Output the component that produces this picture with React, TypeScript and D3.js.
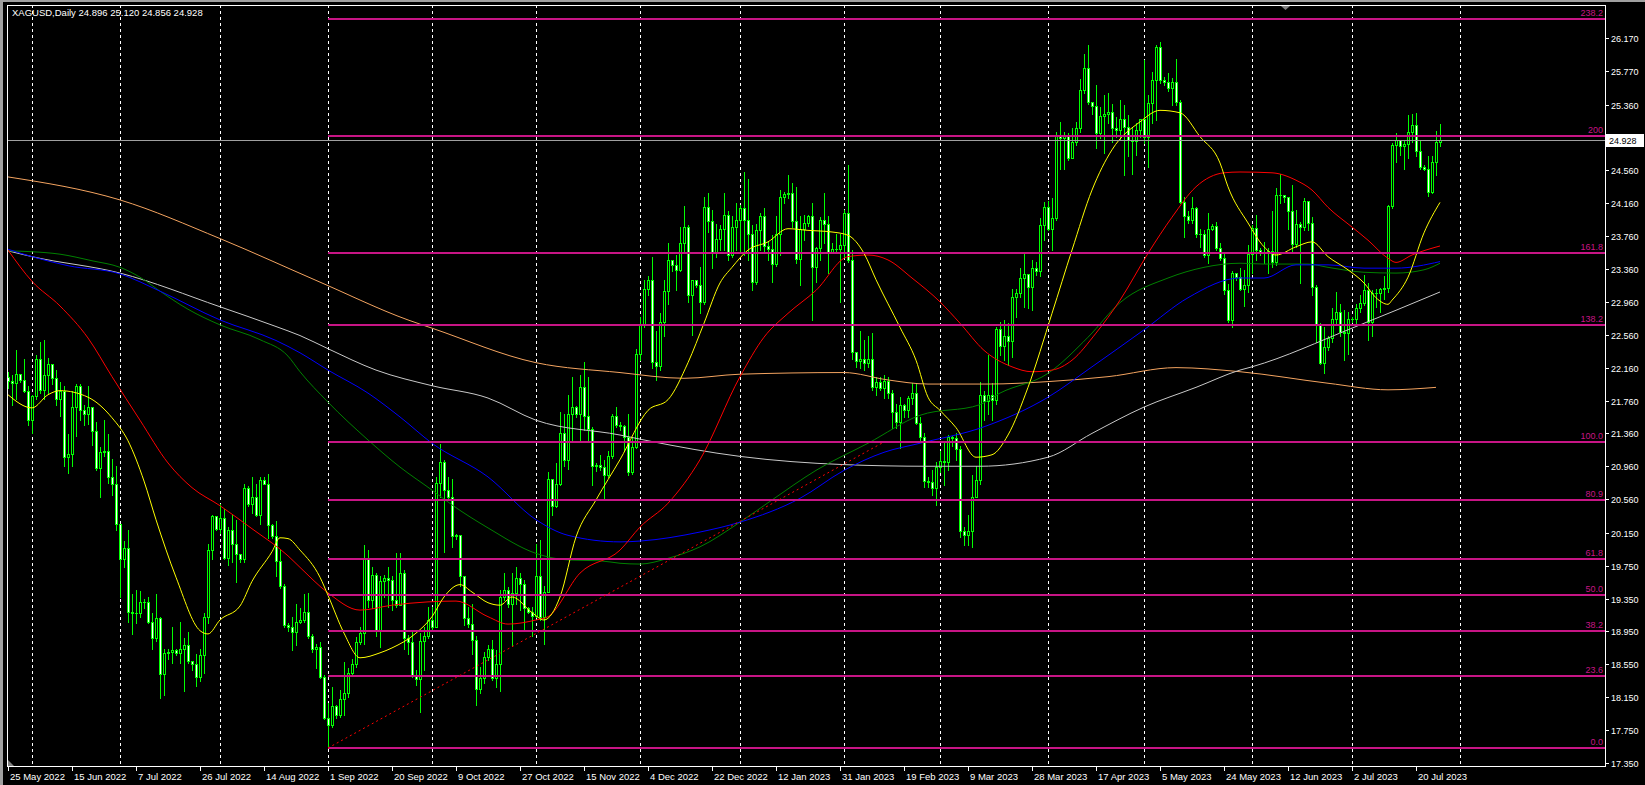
import React from "react";
import { scaleLinear, line, curveMonotoneX } from "d3";

// XAGUSD daily bars, 25 May 2022 .. 25 Jul 2023 (open = previous close)
const firstOpen = 22.05;
const closes = [
	22.0, 21.97, 22.08, 22.01, 21.88, 21.52, 21.81, 22.27, 21.89, 22.07,
	22.21, 22.03, 21.78, 21.87, 21.07, 21.11, 21.68, 21.94, 21.65, 21.6,
	21.68, 21.39, 20.94, 21.13, 21.15, 20.83, 20.75, 20.26, 19.83, 19.96,
	19.19, 19.18, 19.17, 19.31, 19.31, 19.07, 18.87, 19.11, 18.43, 18.69,
	18.7, 18.72, 18.69, 18.74, 18.79, 18.59, 18.55, 18.4, 18.66, 19.13,
	19.94, 20.35, 20.2, 20.33, 19.85, 20.18, 20.02, 19.89, 19.83, 20.7,
	20.5, 20.59, 20.37, 20.79, 20.75, 20.24, 20.11, 19.81, 19.5, 19.03,
	19.0, 18.94, 19.07, 19.09, 19.19, 18.9, 18.74, 18.76, 18.4, 17.9,
	17.81, 18.04, 17.93, 18.13, 18.2, 18.44, 18.56, 18.82, 18.93, 19.84,
	19.33, 19.64, 18.95, 19.56, 19.6, 19.58, 19.33, 19.27, 19.66, 18.87,
	18.82, 18.42, 18.37, 18.83, 18.89, 19.09, 19.0, 20.76, 21.01, 20.67,
	20.59, 20.11, 20.12, 19.62, 19.11, 19.04, 18.85, 18.25, 18.38, 18.64,
	18.74, 18.38, 18.56, 19.37, 19.45, 19.28, 19.42, 19.6, 19.53, 19.24,
	19.19, 19.14, 19.62, 19.13, 19.43, 20.8, 20.48, 20.75, 21.37, 21.04,
	21.59, 21.68, 21.6, 21.93, 21.57, 21.41, 20.96, 20.98, 20.95, 20.85,
	21.08, 21.57, 21.46, 21.45, 21.31, 20.89, 21.2, 22.33, 22.69, 23.12,
	23.23, 22.23, 22.18, 22.71, 23.09, 23.47, 23.41, 23.35, 23.68, 23.87,
	23.04, 23.22, 23.17, 22.96, 24.12, 23.94, 23.57, 23.72, 23.85, 24.02,
	23.53, 23.87, 23.95, 24.1, 23.96, 23.79, 23.2, 23.83, 24.0, 23.64,
	23.6, 23.42, 23.79, 24.24, 24.27, 24.28, 23.94, 23.48, 23.85, 23.92,
	24.0, 23.39, 23.62, 23.95, 23.91, 23.57, 23.6, 23.6, 23.65, 24.04,
	23.47, 22.35, 22.24, 22.27, 22.22, 22.27, 21.92, 21.99, 21.91, 22.0,
	21.85, 21.62, 21.5, 21.7, 21.64, 21.79, 21.85, 21.49, 21.32, 20.78,
	20.77, 20.69, 20.95, 21.03, 21.01, 21.32, 21.3, 21.17, 20.17, 20.12,
	20.17, 20.59, 20.79, 21.83, 21.75, 21.83, 21.77, 22.63, 22.42, 22.55,
	22.48, 23.02, 23.07, 23.25, 23.3, 23.14, 23.37, 23.34, 23.9, 24.12,
	23.85, 23.98, 24.99, 24.95, 24.99, 24.71, 24.9, 25.07, 25.54, 25.8,
	25.39, 25.34, 25.02, 25.22, 25.25, 25.27, 25.08, 25.05, 25.19, 25.09,
	24.93, 24.92, 25.05, 25.18, 24.97, 25.38, 25.66, 26.06, 25.66, 25.64,
	25.56, 25.64, 25.39, 24.18, 24.0, 23.96, 24.1, 23.79, 23.78, 23.53,
	23.85, 23.88, 23.61, 23.49, 23.1, 22.74, 23.31, 23.26, 23.12, 23.16,
	23.54, 23.86, 23.59, 23.56, 23.55, 23.58, 23.44, 24.26, 24.26, 24.23,
	24.07, 23.66, 23.91, 23.87, 24.19, 23.92, 23.14, 22.68, 22.22, 22.41,
	22.52, 22.75, 22.84, 22.59, 22.58, 22.75, 22.75, 22.88, 22.95, 23.11,
	22.71, 23.07, 23.07, 23.12, 23.13, 24.13, 24.87, 24.93, 24.86, 24.88,
	25.03, 25.11, 24.79, 24.6, 24.58, 24.3, 24.66, 24.9, 24.928,
];
const highs = [
	22.11, 22.07, 22.37, 22.08, 22.26, 21.94, 21.83, 22.31, 22.47, 22.5,
	22.28, 22.21, 22.13, 21.98, 21.94, 21.35, 21.87, 21.96, 21.96, 21.7,
	21.94, 21.68, 21.5, 21.2, 21.52, 21.35, 21.05, 20.96, 20.26, 20.05,
	20.18, 19.4, 19.46, 19.44, 19.35, 19.37, 19.18, 19.4, 19.13, 18.74,
	18.74, 19.0, 18.74, 19.07, 18.87, 18.94, 18.59, 18.68, 18.74, 19.18,
	20.02, 20.37, 20.35, 20.5, 20.44, 20.22, 20.37, 20.31, 19.89, 20.74,
	20.72, 20.83, 20.74, 20.83, 20.83, 20.87, 20.26, 20.29, 19.94, 19.53,
	19.05, 19.13, 19.29, 19.24, 19.4, 19.42, 18.92, 18.8, 18.82, 18.42,
	18.08, 18.28, 18.05, 18.24, 18.58, 18.5, 18.62, 18.88, 19.0, 20.0,
	19.94, 19.74, 19.66, 19.62, 19.64, 19.74, 19.62, 19.9, 19.9, 19.7,
	18.91, 18.97, 18.48, 18.93, 19.01, 19.25, 19.25, 20.83, 21.23, 21.04,
	20.83, 20.81, 20.14, 20.12, 19.6, 19.25, 19.29, 18.89, 18.52, 18.7,
	18.78, 18.85, 18.72, 19.45, 19.66, 19.49, 19.66, 19.74, 19.66, 19.58,
	19.25, 19.25, 20.02, 20.06, 19.5, 20.89, 20.8, 21.0, 21.62, 21.6,
	21.83, 22.05, 21.69, 22.07, 22.23, 22.05, 21.44, 21.0, 21.1, 21.04,
	21.14, 21.6, 21.68, 21.5, 21.46, 21.6, 21.32, 22.39, 22.78, 23.22,
	23.27, 23.51, 22.6, 22.82, 23.23, 23.67, 23.47, 23.53, 23.87, 24.13,
	23.89, 23.23, 23.22, 23.39, 24.24, 24.29, 24.08, 23.91, 23.89, 24.28,
	24.06, 24.0, 24.16, 24.14, 24.54, 24.46, 23.89, 23.91, 24.04, 24.1,
	23.69, 23.77, 24.0, 24.32, 24.3, 24.5, 24.4, 24.36, 24.0, 24.02,
	24.02, 24.16, 23.63, 23.99, 24.28, 24.0, 23.67, 23.79, 23.79, 24.08,
	24.62, 23.59, 22.33, 22.6, 22.49, 22.54, 22.58, 22.05, 22.05, 22.07,
	22.05, 21.89, 21.72, 21.8, 21.72, 21.81, 21.97, 21.97, 21.56, 21.36,
	20.83, 20.91, 21.01, 21.14, 21.24, 21.34, 21.33, 21.36, 21.21, 20.22,
	20.37, 20.85, 20.96, 21.99, 21.88, 22.31, 21.97, 22.66, 22.72, 22.74,
	22.7, 23.12, 23.12, 23.37, 23.55, 23.29, 23.47, 23.45, 23.98, 24.17,
	24.19, 24.22, 25.03, 25.15, 25.03, 25.01, 25.07, 25.15, 25.67, 25.97,
	26.08, 25.39, 25.6, 25.33, 25.48, 25.5, 25.37, 25.21, 25.42, 25.35,
	25.23, 25.09, 25.13, 25.19, 25.9, 25.48, 25.76, 26.08, 26.12, 25.7,
	25.74, 25.68, 25.92, 25.42, 24.24, 24.06, 24.24, 24.12, 23.85, 23.83,
	24.04, 23.91, 23.93, 23.67, 23.55, 23.18, 23.33, 23.29, 23.37, 23.35,
	23.65, 23.89, 24.02, 23.61, 23.69, 23.61, 24.06, 24.34, 24.52, 24.26,
	24.24, 24.38, 24.08, 23.93, 24.22, 24.16, 23.99, 23.16, 22.7, 22.66,
	22.54, 22.88, 23.08, 22.94, 22.86, 22.84, 22.78, 22.94, 23.04, 23.29,
	23.19, 23.1, 23.12, 23.13, 23.27, 24.14, 24.89, 25.02, 24.9, 24.93,
	25.23, 25.25, 25.26, 24.92, 24.62, 24.73, 24.73, 25.04, 25.12,
];
const lows = [
	21.91, 21.7, 21.78, 21.98, 21.86, 21.46, 21.37, 21.78, 21.85, 21.78,
	21.85, 21.96, 21.7, 21.57, 20.96, 20.88, 20.96, 21.33, 21.52, 21.46,
	21.48, 21.22, 20.92, 20.59, 21.09, 20.76, 20.61, 20.18, 19.37, 19.74,
	19.07, 18.92, 19.05, 19.13, 19.24, 19.05, 18.74, 18.83, 18.14, 18.18,
	18.61, 18.57, 18.66, 18.57, 18.22, 18.57, 18.48, 18.29, 18.35, 18.44,
	19.05, 19.83, 20.18, 20.15, 19.83, 19.76, 19.79, 19.55, 19.79, 19.79,
	20.48, 20.39, 20.35, 20.26, 20.74, 20.09, 20.09, 19.63, 19.48, 19.0,
	18.96, 18.72, 18.79, 19.05, 19.07, 18.87, 18.7, 18.5, 18.38, 17.89,
	17.54, 17.79, 17.9, 17.91, 17.93, 18.15, 18.42, 18.52, 18.8, 18.8,
	19.25, 19.23, 18.89, 18.76, 19.37, 19.25, 19.21, 19.25, 19.27, 18.74,
	18.68, 18.4, 18.3, 17.97, 18.48, 18.87, 18.96, 19.0, 20.59, 19.92,
	20.55, 19.98, 20.08, 19.5, 19.03, 19.01, 18.68, 18.06, 18.2, 18.32,
	18.6, 18.36, 18.28, 18.22, 19.33, 19.25, 18.77, 19.29, 19.21, 18.97,
	19.17, 18.9, 19.13, 19.09, 18.8, 19.43, 20.37, 20.47, 20.73, 20.96,
	20.93, 21.26, 21.56, 21.26, 21.4, 21.28, 20.73, 20.9, 20.91, 20.57,
	20.83, 21.06, 21.44, 21.4, 21.14, 20.85, 20.87, 21.18, 22.25, 22.66,
	23.04, 22.15, 22.01, 22.13, 22.54, 22.94, 23.33, 23.1, 23.33, 23.55,
	22.96, 22.56, 23.14, 22.82, 22.94, 23.81, 23.37, 23.51, 23.59, 23.59,
	23.47, 23.51, 23.59, 23.55, 23.53, 23.47, 23.1, 23.18, 23.59, 23.55,
	23.47, 23.2, 23.4, 23.53, 24.16, 24.22, 23.87, 23.43, 23.16, 23.71,
	23.88, 22.74, 23.2, 23.47, 23.67, 23.31, 23.55, 23.55, 22.96, 23.51,
	23.45, 22.27, 22.17, 22.15, 22.13, 22.17, 21.89, 21.83, 21.89, 21.79,
	21.79, 21.42, 21.42, 21.18, 21.56, 21.56, 21.72, 21.48, 21.26, 20.71,
	20.71, 20.61, 20.49, 20.89, 20.73, 20.91, 21.21, 21.04, 20.1, 20.0,
	20.0, 19.98, 20.65, 20.75, 21.52, 21.6, 21.52, 21.72, 22.31, 22.25,
	22.19, 22.29, 22.78, 23.02, 22.9, 22.88, 22.86, 23.29, 23.27, 23.71,
	23.83, 23.59, 23.96, 24.58, 24.58, 24.69, 24.73, 24.87, 25.03, 25.5,
	25.37, 25.25, 24.83, 24.95, 24.77, 25.13, 24.91, 24.97, 24.93, 24.5,
	24.73, 24.52, 24.75, 24.97, 24.89, 24.6, 25.13, 25.17, 25.62, 25.6,
	25.52, 25.36, 25.35, 24.16, 23.75, 23.92, 23.92, 23.75, 23.63, 23.51,
	23.43, 23.83, 23.59, 23.47, 23.06, 22.72, 22.66, 23.23, 23.1, 22.91,
	23.08, 23.31, 23.47, 23.53, 23.43, 23.31, 23.39, 23.41, 24.16, 24.18,
	23.85, 23.57, 23.63, 23.19, 23.83, 23.83, 23.04, 22.47, 22.21, 22.09,
	22.37, 22.47, 22.7, 22.54, 22.25, 22.33, 22.72, 22.7, 22.84, 22.92,
	22.5, 22.55, 22.9, 22.84, 23.0, 23.08, 24.1, 24.66, 24.75, 24.58,
	24.71, 24.91, 24.73, 24.58, 24.56, 24.25, 24.28, 24.5, 24.856,
];

// moving averages: [bar, price]
const maOrange: [number, number][] = [
	[0, 24.48], [28, 24.2], [53, 23.73], [78, 23.2], [100, 22.74], [106, 22.64],
	[132, 22.22], [153, 22.1], [169, 22.03], [183, 22.08], [209, 22.1], [220, 22.01],
	[230, 21.96], [245, 21.96], [260, 21.99], [275, 22.05], [292, 22.16], [308, 22.11],
	[330, 21.97], [345, 21.89], [357, 21.92],
];
const maSilver: [number, number][] = [
	[0, 23.58], [6, 23.51], [28, 23.31], [53, 22.9], [67, 22.66], [73, 22.55],
	[80, 22.39], [92, 22.13], [106, 21.94], [120, 21.79], [132, 21.52], [153, 21.34],
	[160, 21.27], [183, 21.08], [209, 20.98], [230, 20.96], [243, 20.96], [260, 21.07],
	[271, 21.36], [284, 21.68], [297, 21.92], [308, 22.13], [311, 22.17], [336, 22.64],
	[358, 23.08],
];
const maBlue: [number, number][] = [
	[0, 23.6], [6, 23.51], [15, 23.4], [28, 23.3], [38, 23.09], [53, 22.74],
	[67, 22.49], [73, 22.34], [80, 22.13], [90, 21.85], [98, 21.56], [106, 21.24],
	[120, 20.83], [132, 20.31], [140, 20.12], [153, 20.04], [158, 20.05], [173, 20.16],
	[183, 20.28], [198, 20.57], [209, 20.91], [219, 21.13], [228, 21.24], [244, 21.44],
	[260, 21.8], [271, 22.17], [284, 22.62], [295, 23.01], [308, 23.25], [314, 23.25],
	[322, 23.41], [330, 23.41], [339, 23.37], [347, 23.37], [358, 23.45],
];
const maGreen: [number, number][] = [
	[0, 23.58], [6, 23.57], [13, 23.54], [21, 23.46], [28, 23.38], [33, 23.26],
	[38, 23.09], [45, 22.87], [53, 22.68], [63, 22.5], [70, 22.3], [73, 22.11],
	[80, 21.74], [90, 21.28], [98, 20.95], [106, 20.67], [111, 20.49], [120, 20.21],
	[132, 19.9], [140, 19.82], [148, 19.81], [153, 19.78], [158, 19.77], [165, 19.84],
	[173, 19.98], [183, 20.28], [191, 20.55], [202, 20.91], [215, 21.24], [228, 21.58],
	[243, 21.71], [248, 21.85], [260, 22.09], [270, 22.53], [278, 22.95], [290, 23.25],
	[299, 23.38], [308, 23.43], [314, 23.42], [325, 23.42], [330, 23.38], [339, 23.32],
	[347, 23.31], [354, 23.35], [358, 23.43],
];
const maRed: [number, number][] = [
	[0, 23.59], [6, 23.21], [13, 22.91], [20, 22.52], [26, 22.05], [33, 21.52],
	[40, 21.0], [46, 20.7], [53, 20.48], [61, 20.2], [70, 19.87], [73, 19.73],
	[80, 19.42], [88, 19.21], [96, 19.27], [105, 19.31], [112, 19.32], [120, 19.13],
	[125, 19.04], [132, 19.09], [135, 19.13], [143, 19.66], [153, 19.94], [158, 20.22],
	[165, 20.51], [173, 21.04], [183, 22.05], [189, 22.53], [195, 22.82], [202, 23.1],
	[210, 23.51], [215, 23.53], [220, 23.47], [226, 23.25], [233, 22.96], [238, 22.7],
	[244, 22.37], [251, 22.17], [256, 22.11], [261, 22.13], [266, 22.25], [272, 22.58],
	[278, 22.98], [285, 23.55], [291, 23.99], [297, 24.36], [304, 24.53], [308, 24.54],
	[316, 24.53], [322, 24.44], [326, 24.32], [330, 24.11], [336, 23.87], [340, 23.71],
	[345, 23.49], [347, 23.44], [351, 23.53], [358, 23.64],
];
const maYellow: [number, number][] = [
	[0, 21.83], [6, 21.67], [10, 21.83], [13, 21.88], [20, 21.8], [26, 21.55],
	[30, 21.27], [34, 20.78], [37, 20.31], [42, 19.61], [48, 18.96], [50, 18.92],
	[53, 19.09], [58, 19.26], [61, 19.56], [66, 19.92], [68, 20.09], [70, 20.08],
	[73, 19.94], [78, 19.61], [80, 19.39], [84, 18.93], [88, 18.63], [93, 18.69],
	[96, 18.75], [102, 18.93], [106, 19.13], [109, 19.37], [113, 19.52], [116, 19.43],
	[120, 19.3], [123, 19.27], [126, 19.37], [131, 19.18], [134, 19.09], [138, 19.37],
	[142, 20.1], [147, 20.55], [153, 21.04], [160, 21.64], [165, 21.77], [170, 22.22],
	[174, 22.7], [178, 23.19], [181, 23.38], [185, 23.59], [190, 23.69], [195, 23.85],
	[200, 23.83], [206, 23.81], [210, 23.77], [214, 23.55], [217, 23.23], [223, 22.65],
	[227, 22.25], [230, 21.8], [233, 21.64], [237, 21.43], [242, 21.07], [246, 21.1],
	[250, 21.34], [255, 21.92], [261, 22.82], [266, 23.59], [271, 24.32], [276, 24.81],
	[283, 25.15], [288, 25.29], [293, 25.26], [298, 24.97], [303, 24.65], [305, 24.36],
	[310, 23.92], [314, 23.63], [317, 23.53], [322, 23.63], [326, 23.69], [330, 23.51],
	[335, 23.35], [339, 23.19], [342, 23.01], [345, 22.93], [346, 22.98], [350, 23.26],
	[354, 23.8], [358, 24.17],
];

const title = "XAGUSD,Daily  24.896 25.120 24.856 24.928";
const lastPrice = 24.928;

const priceTicks = [
	17.35, 17.75, 18.15, 18.55, 18.95, 19.35, 19.75, 20.15, 20.56, 20.96, 21.36,
	21.76, 22.16, 22.56, 22.96, 23.36, 23.76, 24.16, 24.56, 25.36, 25.77, 26.17,
];
// one label every 16 bars, starting at bar 0
const dateLabels = [
	"25 May 2022", "15 Jun 2022", "7 Jul 2022", "26 Jul 2022", "14 Aug 2022",
	"1 Sep 2022", "20 Sep 2022", "9 Oct 2022", "27 Oct 2022", "15 Nov 2022",
	"4 Dec 2022", "22 Dec 2022", "12 Jan 2023", "31 Jan 2023", "19 Feb 2023",
	"9 Mar 2023", "28 Mar 2023", "17 Apr 2023", "5 May 2023", "24 May 2023",
	"12 Jun 2023", "2 Jul 2023", "20 Jul 2023",
];
const dateStep = 16;
const monthStartBars = [6, 28, 53, 80, 106, 132, 158, 183, 209, 233, 260, 284, 311, 336, 363];

const fibLevels = [0, 23.6, 38.2, 50, 61.8, 80.9, 100, 138.2, 161.8, 200, 238.2];
const fibLabels = ["0.0", "23.6", "38.2", "50.0", "61.8", "80.9", "100.0", "138.2", "161.8", "200", "238.2"];
const fibLow = 17.5325;
const fibHigh = 21.255;
const fibStartBar = 80;
const fibEndBar = 219;

const W = 1645;
const H = 785;
const plot = { left: 7, top: 5, right: 1605, bottom: 766 };
const lime = "#00ff00";
const fibColor = "#c71585";
const font = "'Liberation Sans', Arial, sans-serif";

const x = scaleLinear().domain([0, closes.length - 1]).range([8, 1440]);
const y = scaleLinear().domain([17.35, 26.17]).range([763, 38]);
const ry = (v: number) => Math.round(y(v));

const maPath = line<[number, number]>()
	.x((d) => x(d[0]))
	.y((d) => y(d[1]))
	.curve(curveMonotoneX);

const Candles = () => (
	<g shapeRendering="crispEdges">
		{closes.map((c, i) => {
			const o = i === 0 ? firstOpen : closes[i - 1];
			const cx = Math.round(x(i));
			const hi = ry(Math.max(highs[i], o, c));
			const lo = ry(Math.min(lows[i], o, c));
			const top = ry(Math.max(o, c));
			const bot = ry(Math.min(o, c));
			const h = bot - top;
			return (
				<g key={i}>
					<rect x={cx} y={hi} width={1} height={lo - hi + 1} fill={lime} />
					<rect x={cx - 1} y={top} width={3} height={h + 1} fill={lime} />
					{h >= 2 && (
						<rect x={cx} y={top + 1} width={1} height={h - 1} fill={c >= o ? "#000" : "#fff"} />
					)}
				</g>
			);
		})}
	</g>
);

export default function App() {
	const fibX = Math.round(x(fibStartBar));
	const lastY = ry(lastPrice);
	const mas: { pts: [number, number][]; color: string }[] = [
		{ pts: maOrange, color: "#f4a460" },
		{ pts: maSilver, color: "#c8c8c8" },
		{ pts: maGreen, color: "#008000" },
		{ pts: maBlue, color: "#0000ff" },
		{ pts: maRed, color: "#ff0000" },
		{ pts: maYellow, color: "#ffff00" },
	];
	return (
		<svg
			width={W}
			height={H}
			style={{ position: "fixed", left: 0, top: 0, background: "#000" }}
			fontFamily={font}>
			<rect width={W} height={H} fill="#000" />
			<rect x={0} y={0} width={W} height={2} fill="#a0a0a0" />
			<rect x={0} y={0} width={3} height={H} fill="#a0a0a0" />

			{/* month grid */}
			{monthStartBars.map((b) => (
				<line
					key={b}
					x1={Math.round(x(b)) + 0.5}
					x2={Math.round(x(b)) + 0.5}
					y1={plot.top}
					y2={plot.bottom}
					stroke="#fff"
					strokeDasharray="3 3"
				/>
			))}

			<Candles />

			{mas.map((m, i) => (
				<path key={i} d={maPath(m.pts) || ""} fill="none" stroke={m.color} strokeWidth={1} />
			))}

			{/* fibonacci levels */}
			{fibLevels.map((lv, i) => {
				const yy = ry(fibLow + ((fibHigh - fibLow) * lv) / 100);
				return (
					<g key={lv}>
						<line x1={fibX} x2={plot.right} y1={yy} y2={yy} stroke={fibColor} strokeWidth={2} />
						<text x={plot.right - 2} y={yy - 3} textAnchor="end" fontSize={9} fill={fibColor}>
							{fibLabels[i]}
						</text>
					</g>
				);
			})}
			<line
				x1={x(fibStartBar)}
				y1={y(fibLow)}
				x2={x(fibEndBar)}
				y2={y(fibHigh)}
				stroke="#ff0000"
				strokeWidth={1}
				strokeDasharray="2 3"
			/>

			{/* bid line */}
			<line x1={plot.left} x2={plot.right} y1={lastY + 0.5} y2={lastY + 0.5} stroke="#a0a0a0" />

			{/* frame */}
			<rect
				x={plot.left + 0.5}
				y={plot.top + 0.5}
				width={plot.right - plot.left}
				height={plot.bottom - plot.top}
				fill="none"
				stroke="#fff"
			/>
			<polygon points={`${plot.left + 1},760 ${plot.left + 1},766 ${plot.left + 7},766`} fill="#808080" />
			<polygon points="1281,6 1290,6 1285.5,10" fill="#808080" />

			{/* price axis */}
			{priceTicks.map((p) => (
				<g key={p}>
					<line x1={plot.right} x2={plot.right + 4} y1={ry(p) + 0.5} y2={ry(p) + 0.5} stroke="#fff" />
					<text x={plot.right + 6} y={ry(p) + 3.5} fontSize={9} fill="#fff">
						{p.toFixed(3)}
					</text>
				</g>
			))}
			<rect x={plot.right + 1} y={lastY - 6} width={38} height={13} fill="#fff" />
			<text x={plot.right + 4} y={lastY + 4} fontSize={9} fill="#000">
				{lastPrice.toFixed(3)}
			</text>

			{/* time axis */}
			{dateLabels.map((d, i) => {
				const tx = Math.round(x(i * dateStep));
				return (
					<g key={d}>
						<line x1={tx + 0.5} x2={tx + 0.5} y1={plot.bottom} y2={plot.bottom + 5} stroke="#fff" />
						<text x={tx + 2} y={780} fontSize={9.5} fill="#fff">
							{d}
						</text>
					</g>
				);
			})}

			<text x={12} y={16} fontSize={9.5} fill="#fff">
				{title}
			</text>
		</svg>
	);
}
